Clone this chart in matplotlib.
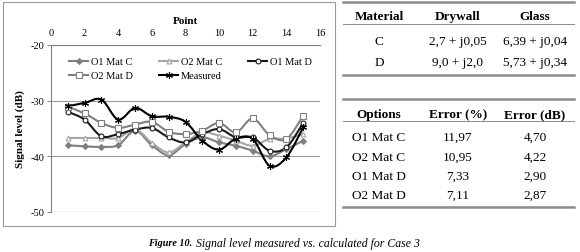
import numpy as np
import matplotlib.pyplot as plt
from matplotlib.path import Path
from matplotlib.patches import PathPatch, Rectangle

plt.rcParams['font.family'] = ['Liberation Serif', 'DejaVu Serif']
plt.rcParams['axes.unicode_minus'] = False

# data
points = [1, 2, 3, 4, 5, 6, 7, 8, 9, 10, 11, 12, 13, 14, 15]
o1_mat_c = [-38.0, -38.2, -38.3, -38.0, -35.4, -38.0, -39.8, -37.8, -36.6, -37.5, -38.1, -39.0, -40.0, -38.7, -37.2]
o2_mat_c = [-36.7, -36.7, -36.7, -36.7, -35.1, -37.6, -39.3, -37.5, -35.7, -36.3, -37.2, -38.1, -36.9, -36.8, -36.0]
o1_mat_d = [-32.0, -33.4, -36.4, -36.0, -35.2, -34.9, -36.6, -37.5, -36.0, -35.1, -36.6, -36.6, -39.0, -38.4, -34.0]
o2_mat_d = [-31.1, -32.3, -34.0, -34.9, -34.3, -33.8, -35.6, -36.0, -35.4, -34.0, -35.7, -33.2, -36.2, -36.9, -32.7]
measured = [-31.0, -30.4, -29.8, -33.4, -31.3, -32.8, -32.9, -33.8, -37.2, -38.8, -36.8, -36.9, -41.7, -40.2, -34.8]

table1_header = ['Material', 'Drywall', 'Glass']
table1_rows = [['C', '2,7 + j0,05', '6,39 + j0,04'],
               ['D', '9,0 + j2,0', '5,73 + j0,34']]
table2_header = ['Options', 'Error (%)', 'Error (dB)']
table2_rows = [['O1 Mat C', '11,97', '4,70'],
               ['O2 Mat C', '10,95', '4,22'],
               ['O1 Mat D', '7,33', '2,90'],
               ['O2 Mat D', '7,11', '2,87']]


def smooth_path(x, y, t=1/6):
    # Excel-like smoothed line as a chain of cubic beziers
    x = np.asarray(x, float)
    y = np.asarray(y, float)
    verts = [(x[0], y[0])]
    codes = [Path.MOVETO]
    n = len(x)
    for i in range(n - 1):
        x0, y0 = (x[i - 1], y[i - 1]) if i > 0 else (x[i], y[i])
        x3, y3 = (x[i + 2], y[i + 2]) if i + 2 < n else (x[i + 1], y[i + 1])
        c1 = (x[i] + (x[i + 1] - x0) * t, y[i] + (y[i + 1] - y0) * t)
        c2 = (x[i + 1] - (x3 - x[i]) * t, y[i + 1] - (y3 - y[i]) * t)
        verts += [c1, c2, (x[i + 1], y[i + 1])]
        codes += [Path.CURVE4] * 3
    return Path(verts, codes)


fig = plt.figure(figsize=(5.8, 2.53), dpi=100)

# frame round the chart
fig.patches.append(Rectangle((3 / 580, 1 - 227 / 253), 332 / 580, 224 / 253,
                             transform=fig.transFigure, fill=False,
                             edgecolor='#9a9a9a', linewidth=0.8))

ax = fig.add_axes([51 / 580, 1 - 213 / 253, 269 / 580, 167 / 253])

series = [
    ('O1 Mat C', o1_mat_c, '#7f7f7f', 'D', 3.0, '#7f7f7f'),
    ('O2 Mat C', o2_mat_c, '#a6a6a6', '^', 3.5, 'white'),
    ('O1 Mat D', o1_mat_d, '#1a1a1a', 'o', 3.5, 'white'),
    ('O2 Mat D', o2_mat_d, '#808080', 's', 4.0, 'white'),
    ('Measured', measured, '#000000', (6, 2, 0), 5.0, '#000000'),
]

handles = {}
for name, vals, col, mk, ms, fc in series:
    ax.add_patch(PathPatch(smooth_path(points, vals), facecolor='none',
                           edgecolor=col, linewidth=1.5, zorder=3))
    ax.plot(points, vals, linestyle='none', marker=mk, markersize=ms,
            markerfacecolor=fc, markeredgecolor=col, markeredgewidth=0.8,
            zorder=4)
    handles[name], = ax.plot([], [], color=col, linewidth=1.5, marker=mk,
                             markersize=ms, markerfacecolor=fc,
                             markeredgecolor=col, markeredgewidth=0.8)

ax.set_xlim(0, 16)
ax.set_ylim(-50, -20)
ax.set_xticks(range(0, 17, 2))
ax.set_yticks([-50, -40, -30, -20])
ax.xaxis.tick_top()
ax.xaxis.set_label_position('top')
ax.set_xlabel('Point', fontsize=8, fontweight='bold', labelpad=3)
ax.set_ylabel('Signal level (dB)', fontsize=8, fontweight='bold', labelpad=4)
ax.tick_params(labelsize=7.5, length=3, width=0.7, color='#808080', pad=2)
ax.tick_params(axis='x', length=0, pad=6)
ax.grid(axis='y', color='#9a9a9a', linewidth=0.8)
ax.set_axisbelow(True)
for s in ['right', 'bottom']:
    ax.spines[s].set_visible(False)
ax.spines['left'].set_color('#808080')
ax.spines['top'].set_color('#808080')
ax.axhline(-50, color='#9a9a9a', linewidth=0.8, zorder=1)

# legend is filled column by column, so order it to read row-wise
order = ['O1 Mat C', 'O2 Mat D', 'O2 Mat C', 'Measured', 'O1 Mat D']
ax.legend([handles[k] for k in order], order, loc='upper left',
          bbox_to_anchor=(0.045, 0.965), ncol=3, frameon=False,
          fontsize=7.5, handlelength=1.8, handletextpad=0.3,
          columnspacing=2.5, labelspacing=0.45, borderaxespad=0.2)

# tables on the right
col_x = [379 / 580, 458 / 580, 535 / 580]
line_x0, line_x1 = 343 / 580, 574 / 580


def hline(y, lw):
    fig.add_artist(plt.Line2D([line_x0, line_x1], [1 - y / 253, 1 - y / 253],
                              color='#8c8c8c', linewidth=lw))


def table(header, rows, y_top, y_head, y_rows, y_bot):
    hline(y_top, 1.8)
    for x, h in zip(col_x, header):
        fig.text(x, 1 - y_head / 253, h, ha='center', va='center',
                 fontsize=9.5, fontweight='bold')
    hline((y_head + y_rows[0]) / 2 - 5, 0.7)
    for y, row in zip(y_rows, rows):
        for x, cell in zip(col_x, row):
            fig.text(x, 1 - y / 253, cell, ha='center', va='center',
                     fontsize=9.5)
    hline(y_bot, 1.8)


table(table1_header, table1_rows, 3, 17, [42, 63], 76)
table(table2_header, table2_rows, 100, 115, [138, 158, 177, 196], 208)

# caption: bold italic label followed by italic text
cap = fig.text(148 / 580, 1 - 244 / 253, 'Figure 10.', ha='left', va='center',
               fontsize=7.3, fontweight='bold', style='italic')
ax.annotate('Signal level measured vs. calculated for Case 3',
            xy=(1, 0.5), xycoords=cap, xytext=(3, 0),
            textcoords='offset points', ha='left', va='center',
            fontsize=8.5, style='italic', annotation_clip=False)

fig.savefig('out.png', dpi=100)
